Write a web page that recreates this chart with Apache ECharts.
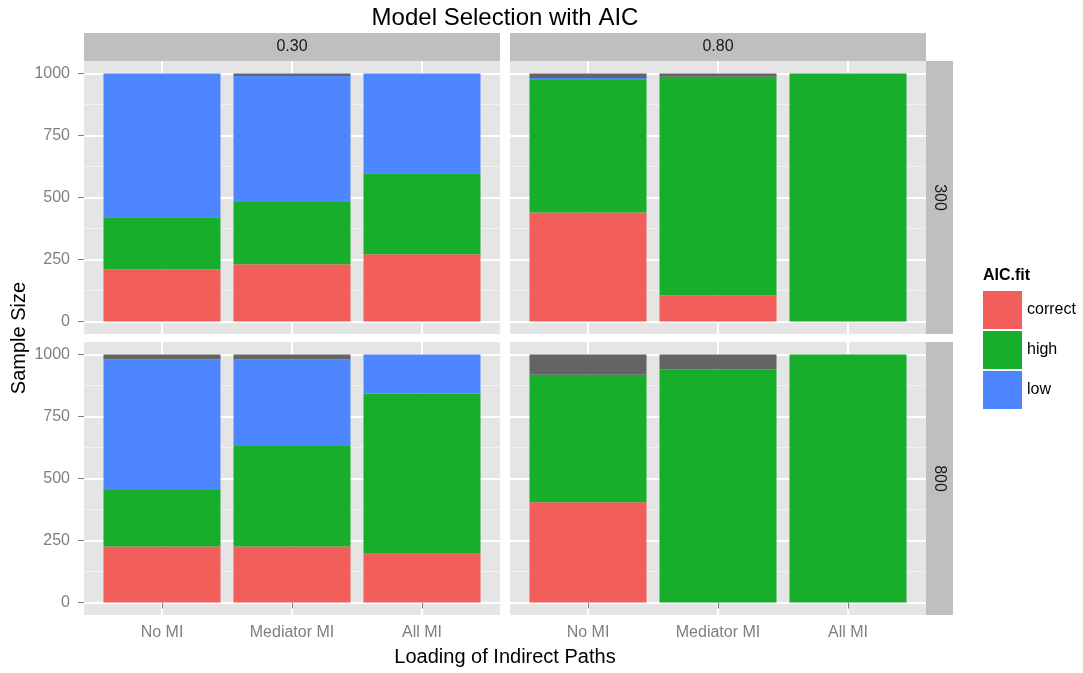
<!DOCTYPE html>
<html>
<head>
<meta charset="utf-8">
<script src="https://cdn.jsdelivr.net/npm/echarts@6/dist/echarts.min.js"></script>
<style>
  html, body { margin: 0; padding: 0; background: #ffffff; }
  #chart { width: 1083px; height: 673px; }
</style>
</head>
<body>
<div id="chart"></div>
<script>
// ---- data ----
const categories = ['No MI', 'Mediator MI', 'All MI'];
const colFacets = ['0.30', '0.80'];
const rowFacets = ['300', '800'];
const yTicks = [0, 250, 500, 750, 1000];
const yMinorTicks = [125, 375, 625, 875];
const fitLevels = ['correct', 'high', 'low', 'NA'];

// loading 0.30, sample size 300
const correct_p030_n300 = [211, 231, 271];
const high_p030_n300    = [209, 251, 327];
const low_p030_n300     = [580, 508, 402];
const na_p030_n300      = [0, 10, 0];
// loading 0.80, sample size 300
const correct_p080_n300 = [440, 106, 0];
const high_p080_n300    = [533, 881, 1000];
const low_p080_n300     = [8, 0, 0];
const na_p080_n300      = [19, 13, 0];
// loading 0.30, sample size 800
const correct_p030_n800 = [226, 226, 200];
const high_p030_n800    = [228, 405, 642];
const low_p030_n800     = [526, 349, 158];
const na_p030_n800      = [20, 20, 0];
// loading 0.80, sample size 800
const correct_p080_n800 = [404, 0, 0];
const high_p080_n800    = [514, 939, 1000];
const low_p080_n800     = [0, 0, 0];
const na_p080_n800      = [82, 61, 0];

const panelSeries = [
  [correct_p030_n300, high_p030_n300, low_p030_n300, na_p030_n300],
  [correct_p080_n300, high_p080_n300, low_p080_n300, na_p080_n300],
  [correct_p030_n800, high_p030_n800, low_p030_n800, na_p030_n800],
  [correct_p080_n800, high_p080_n800, low_p080_n800, na_p080_n800]
];

// ---- styles / layout ----
const fillColors = ['#F25E59', '#17AE2C', '#4E86FF', '#646464'];
const panelW = 416, panelH = 273;
const panelLefts = [84, 510];
const panelTops = [61, 342];
const stripTop = 33, stripH = 28;
const stripRightX = 926, stripRightW = 27;
const font = 'Liberation Sans, Arial, Helvetica, sans-serif';
const unit = panelW / 3.2;          // ggplot discrete expansion: 0.6 on each side
const Y_MIN = -50, Y_MAX = 1050;    // ggplot 5% continuous expansion

const grids = [], xAxes = [], yAxes = [], series = [];
function addGrid(g) { grids.push(g); return grids.length - 1; }

for (let r = 0; r < 2; r++) {
  for (let c = 0; c < 2; c++) {
    const p = r * 2 + c;
    const showX = r === 1;
    const showY = c === 0;
    const L = panelLefts[c], T = panelTops[r];

    // 1. background grid: panel fill, vertical lines, minor horizontal lines, x labels
    const gBg = addGrid({ left: L, top: T, width: panelW, height: panelH, show: true,
      backgroundColor: '#E5E5E5', borderWidth: 0 });
    xAxes.push({
      type: 'value', gridIndex: gBg, min: 0.4, max: 3.6,
      axisLine: { show: false },
      axisTick: { show: showX, customValues: [1, 2, 3], length: 6, lineStyle: { color: '#7F7F7F', width: 1 } },
      axisLabel: { show: showX, customValues: [1, 2, 3], margin: 10,
        formatter: v => categories[Math.round(v) - 1],
        color: '#7F7F7F', fontSize: 16, fontFamily: font },
      splitLine: { show: true, lineStyle: { color: '#FFFFFF', width: 2 } }
    });
    yAxes.push({
      type: 'value', gridIndex: gBg, min: Y_MIN, max: Y_MAX,
      axisLine: { show: false },
      axisTick: { show: false, customValues: yMinorTicks },
      axisLabel: { show: false, customValues: yMinorTicks },
      splitLine: { show: true, lineStyle: { color: '#F2F2F2', width: 1.2 } }
    });

    // 2. major grid: major horizontal lines, y labels and ticks
    const gMaj = addGrid({ left: L, top: T, width: panelW, height: panelH, show: false });
    xAxes.push({ type: 'value', gridIndex: gMaj, min: 0.4, max: 3.6, show: false });
    yAxes.push({
      type: 'value', gridIndex: gMaj, min: Y_MIN, max: Y_MAX,
      axisLine: { show: false },
      axisTick: { show: showY, customValues: yTicks, length: 6, lineStyle: { color: '#7F7F7F', width: 1 } },
      axisLabel: { show: showY, customValues: yTicks, margin: 14, formatter: v => String(v),
        color: '#7F7F7F', fontSize: 16, fontFamily: font },
      splitLine: { show: true, lineStyle: { color: '#FFFFFF', width: 2 } }
    });

    // 3. data grid: category axis spanning the three bands
    const gData = addGrid({ left: L + 0.1 * unit, top: T, width: 3 * unit, height: panelH, show: false });
    const xi = xAxes.length, yi = yAxes.length;
    xAxes.push({ type: 'category', gridIndex: gData, data: categories, boundaryGap: true, show: false });
    yAxes.push({ type: 'value', gridIndex: gData, min: Y_MIN, max: Y_MAX, show: false });

    panelSeries[p].forEach((vals, k) => {
      series.push({
        type: 'bar', name: fitLevels[k],
        xAxisIndex: xi, yAxisIndex: yi, stack: 'stack' + p,
        barWidth: '90%',
        itemStyle: { color: fillColors[k] },
        emphasis: { disabled: true },
        data: vals
      });
    });
  }
}

const graphics = [];
colFacets.forEach((lab, c) => {
  graphics.push({ type: 'rect', left: panelLefts[c], top: stripTop, shape: { width: panelW, height: stripH }, style: { fill: '#BFBFBF' }, silent: true });
  graphics.push({ type: 'text', x: panelLefts[c] + panelW / 2, y: stripTop + stripH / 2,
    style: { text: lab, fill: '#1A1A1A', font: '16px ' + font, align: 'center', verticalAlign: 'middle' } });
});
rowFacets.forEach((lab, r) => {
  graphics.push({ type: 'rect', left: stripRightX, top: panelTops[r], shape: { width: stripRightW, height: panelH }, style: { fill: '#BFBFBF' }, silent: true });
  graphics.push({ type: 'text', x: stripRightX + stripRightW / 2, y: panelTops[r] + panelH / 2, rotation: -Math.PI / 2,
    style: { text: lab, fill: '#1A1A1A', font: '16px ' + font, align: 'center', verticalAlign: 'middle' } });
});
graphics.push({ type: 'text', x: 505, y: 18, style: { text: 'Model Selection with AIC', fill: '#000', font: '24px ' + font, align: 'center', verticalAlign: 'middle' } });
graphics.push({ type: 'text', x: 505, y: 657, style: { text: 'Loading of Indirect Paths', fill: '#000', font: '20px ' + font, align: 'center', verticalAlign: 'middle' } });
graphics.push({ type: 'text', x: 19, y: 338, rotation: Math.PI / 2, style: { text: 'Sample Size', fill: '#000', font: '20px ' + font, align: 'center', verticalAlign: 'middle' } });
graphics.push({ type: 'text', x: 983, y: 276, style: { text: 'AIC.fit', fill: '#000', font: 'bold 16px ' + font, align: 'left', verticalAlign: 'middle' } });

const chart = echarts.init(document.getElementById('chart'), null, { renderer: 'canvas' });
chart.setOption({
  animation: false,
  backgroundColor: '#FFFFFF',
  grid: grids,
  xAxis: xAxes,
  yAxis: yAxes,
  legend: {
    data: ['correct', 'high', 'low'],
    orient: 'vertical', left: 983, top: 291,
    itemWidth: 39, itemHeight: 38, itemGap: 2, icon: 'rect',
    selectedMode: false,
    textStyle: { color: '#000', fontSize: 16, fontFamily: font },
    padding: 0
  },
  graphic: graphics,
  series: series
});
</script>
</body>
</html>
